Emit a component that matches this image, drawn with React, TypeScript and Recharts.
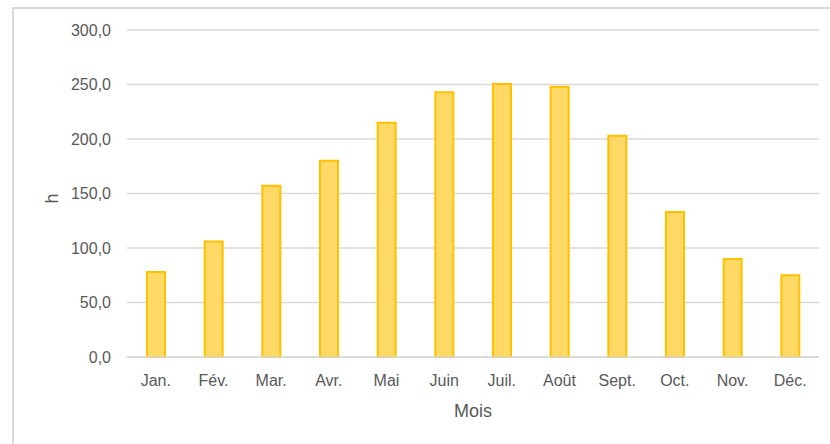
import { BarChart, Bar, XAxis, YAxis, CartesianGrid, Label } from "recharts";

const months = ["Jan.", "Fév.", "Mar.", "Avr.", "Mai", "Juin", "Juil.", "Août", "Sept.", "Oct.", "Nov.", "Déc."];
const hours = [78, 106, 157, 180, 215, 243, 250.5, 248, 203, 133, 90, 75];
const yTicks = [0, 50, 100, 150, 200, 250, 300];

const chartData = months.map((m, i) => ({ mois: m, h: hours[i] }));

const textColor = "#595959";
const gridColor = "#d9d9d9";

export default function App() {
  return (
    <div style={{ position: "absolute", left: 0, top: 0, width: 830, height: 444, overflow: "hidden", background: "#fff" }}>
      <div
        style={{
          position: "absolute",
          left: 12,
          top: 7,
          width: 830,
          height: 460,
          borderTop: `2px solid ${gridColor}`,
          borderLeft: `2px solid ${gridColor}`,
        }}
      />
      <div style={{ position: "absolute", left: 0, top: 0 }}>
        <BarChart
          width={830}
          height={444}
          data={chartData}
          margin={{ top: 30, right: 11, left: 67, bottom: 27 }}
          style={{ fontFamily: "Liberation Sans, sans-serif" }}
        >
          <CartesianGrid stroke={gridColor} strokeWidth={1.5} vertical={false} />
          <XAxis
            dataKey="mois"
            height={60}
            stroke={gridColor}
            strokeWidth={1.5}
            tickLine={false}
            tickSize={0}
            tickMargin={18}
            tick={{ fill: textColor, fontSize: 16 }}
          >
            <Label value="Mois" position="insideBottom" offset={0} fill={textColor} fontSize={18} />
          </XAxis>
          <YAxis
            width={60}
            domain={[0, 300]}
            ticks={yTicks}
            axisLine={false}
            tickLine={false}
            tickSize={0}
            tickMargin={16}
            tickFormatter={(v: number) => v.toFixed(1).replace(".", ",")}
            tick={{ fill: textColor, fontSize: 16 }}
          >
            <Label value="h" angle={-90} position="left" offset={15} fill={textColor} fontSize={18} />
          </YAxis>
          <Bar dataKey="h" fill="#ffd966" stroke="#ffc000" strokeWidth={2} barSize={18} isAnimationActive={false} />
        </BarChart>
      </div>
    </div>
  );
}
